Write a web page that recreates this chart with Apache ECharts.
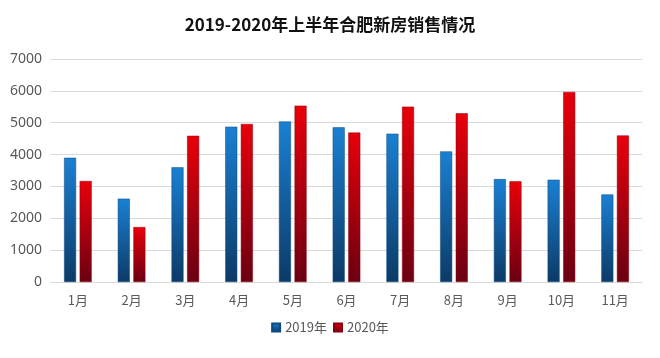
<!DOCTYPE html>
<html>
<head>
<meta charset="utf-8">
<script src="https://cdn.jsdelivr.net/npm/echarts@6/dist/echarts.min.js"></script>
<style>
html,body{margin:0;padding:0;background:#fff;}
#c{width:660px;height:358px;}
</style>
</head>
<body>
<div id="c"></div>
<script>
var categories = ['1月','2月','3月','4月','5月','6月','7月','8月','9月','10月','11月'];
var seriesNames = ['2019年','2020年'];
var values2019 = [3900, 2615, 3600, 4875, 5040, 4855, 4655, 4100, 3230, 3210, 2750];
var values2020 = [3170, 1725, 4590, 4960, 5535, 4690, 5505, 5295, 3160, 5965, 4600];
var yTicks = [0, 1000, 2000, 3000, 4000, 5000, 6000, 7000];

function grad(top, bottom) {
  return new echarts.graphic.LinearGradient(0, 0, 0, 1, [
    {offset: 0, color: top},
    {offset: 1, color: bottom}
  ]);
}

var chart = echarts.init(document.getElementById('c'));
chart.setOption({
  backgroundColor: '#fff',
  animation: false,
  title: {
    text: '2019-2020年上半年合肥新房销售情况',
    left: 'center',
    top: 11,
    textStyle: {fontSize: 17, fontWeight: 'bold', color: '#111', fontFamily: 'Noto Sans CJK SC'}
  },
  legend: {
    data: seriesNames,
    bottom: 19,
    left: 'center',
    itemWidth: 8,
    itemHeight: 8,
    itemGap: 6,
    icon: 'rect',
    textStyle: {fontSize: 13, color: '#595959', fontFamily: 'Noto Sans CJK SC'}
  },
  grid: {left: 51, right: 18, top: 59, bottom: 76},
  xAxis: {
    type: 'category',
    data: categories,
    axisTick: {show: false},
    axisLine: {lineStyle: {color: '#d9d9d9'}},
    axisLabel: {fontSize: 13, color: '#595959', margin: 12, fontFamily: 'Noto Sans CJK SC'}
  },
  yAxis: {
    type: 'value',
    min: yTicks[0],
    max: yTicks[yTicks.length - 1],
    interval: 1000,
    axisLine: {show: false},
    axisTick: {show: false},
    splitLine: {lineStyle: {color: '#d9d9d9'}},
    axisLabel: {fontSize: 14, color: '#595959', margin: 9, fontFamily: 'Noto Sans',
      formatter: function (v) { return String(v); }}
  },
  series: [
    {
      name: seriesNames[0],
      type: 'bar',
      data: values2019,
      barWidth: 12,
      barGap: '30%',
      itemStyle: {color: grad('#1a80d2', '#0c3a66'), borderColor: '#0e4a80', borderWidth: 0.5}
    },
    {
      name: seriesNames[1],
      type: 'bar',
      data: values2020,
      barWidth: 12,
      itemStyle: {color: grad('#e8000a', '#6a0012'), borderColor: '#8a0010', borderWidth: 0.5}
    }
  ]
});
</script>
</body>
</html>
